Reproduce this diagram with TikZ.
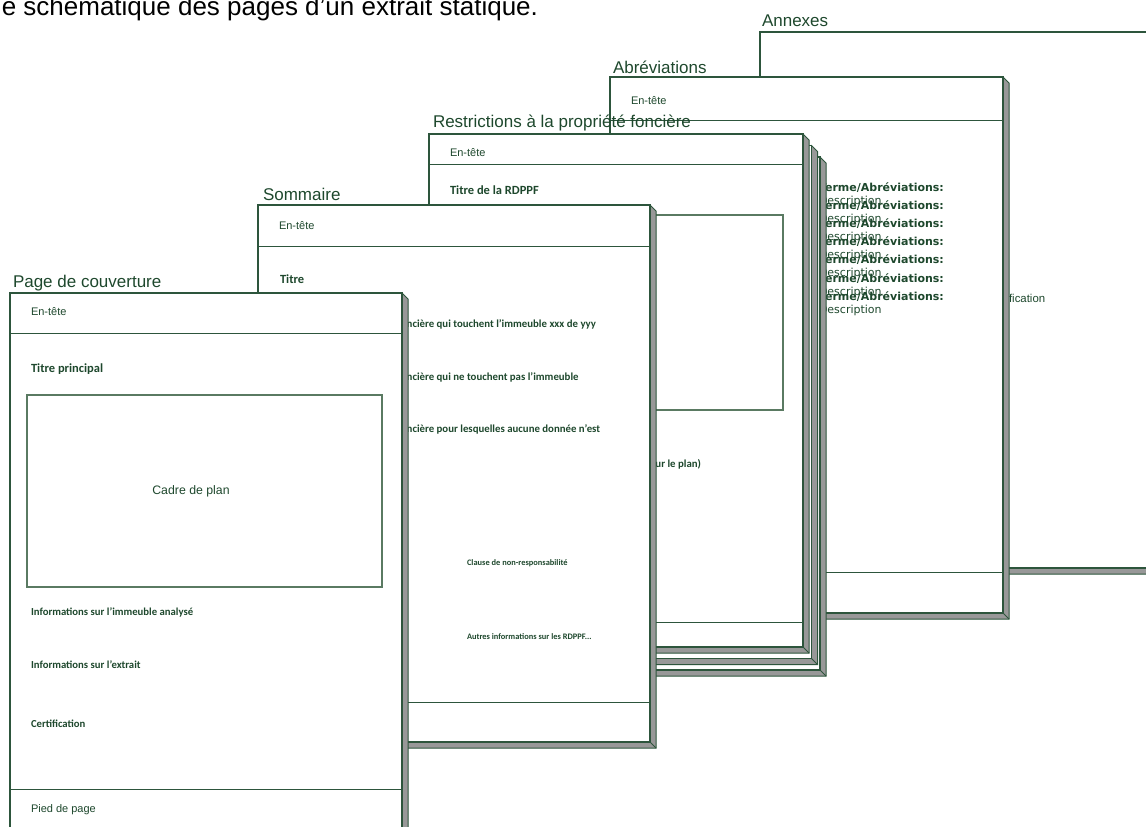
\documentclass[tikz,border=0pt]{standalone}
\usepackage{fontspec}
\setmainfont{Liberation Sans}
\newfontfamily\calibri{Carlito}
\newfontfamily\verdana{DejaVu Sans}

\begin{document}
\begin{tikzpicture}[x=1pt, y=-1pt,
    every node/.style={inner sep=0pt, outer sep=0pt, anchor=base west},
    pageface/.style={draw=linegr, fill=white, line width=1.3pt},
    pageside/.style={draw=linegr, fill=sidegr, line width=1pt},
    divider/.style={draw=linegr, line width=1pt},
    planbox/.style={draw=planfr, line width=1.2pt},
    pagetitle/.style={text=txtgr, font=\fontsize{17}{19}\selectfont},
    headtxt/.style={text=txtgr, font=\fontsize{11}{13}\selectfont},
    boldtitle/.style={text=txtgr, font=\calibri\bfseries\fontsize{12.5}{14}\selectfont},
    boldline/.style={text=txtgr, font=\calibri\bfseries\fontsize{10.8}{12}\selectfont},
    smallline/.style={text=txtgr, font=\calibri\bfseries\fontsize{8.4}{10}\selectfont},
    termtxt/.style={text=txtgr, font=\verdana\bfseries\fontsize{11}{12}\selectfont},
    desctxt/.style={text=txtgr, font=\verdana\fontsize{11}{12}\selectfont}]
    \definecolor{linegr}{RGB}{45,85,60}
    \definecolor{txtgr}{RGB}{30,72,45}
    \definecolor{sidegr}{RGB}{152,152,152}
    \definecolor{planfr}{RGB}{90,122,98}
    \useasboundingbox (0,0) rectangle (1146,827);
    \clip (0,0) rectangle (1146,827);
    % Caption
    \node[anchor=base east, font=\fontsize{26}{28}\selectfont] (caption) at (538,15) {Vue schématique des pages d'un extrait statique.};
    % Annexes
    \filldraw[pageside] (1200,32) -- (1206,38) -- (1206,574) -- (766,574) -- (760,568) -- cycle;
    \draw[pageside] (1200,568) -- (1206,574);
    \filldraw[pageface] (760,32) rectangle (1200,568);
    \node[pagetitle] (annexes) at (762,27) {Annexes};
    \node[headtxt, font=\fontsize{11.4}{13}\selectfont] (annexescert) at (985,302) {Certification};
    % Abreviations
    \filldraw[pageside] (1003,77) -- (1009,83) -- (1009,619) -- (616,619) -- (610,613) -- cycle;
    \draw[pageside] (1003,613) -- (1009,619);
    \filldraw[pageface] (610,77) rectangle (1003,613);
    \draw[divider] (610,120) -- (1003,120);
    \draw[divider] (610,572) -- (1003,572);
    \node[pagetitle] (abrev) at (613,73) {Abréviations};
    \node[headtxt] (abrevhead) at (631,104) {En-tête};
    % terms
    \node[termtxt] (term1) at (819,191.7) {Terme/Abréviations:};
    \node[desctxt] (desc1) at (819,204.7) {Description};
    \node[termtxt] (term2) at (819,209.8) {Terme/Abréviations:};
    \node[desctxt] (desc2) at (819,222.8) {Description};
    \node[termtxt] (term3) at (819,227.8) {Terme/Abréviations:};
    \node[desctxt] (desc3) at (819,240.8) {Description};
    \node[termtxt] (term4) at (819,245.9) {Terme/Abréviations:};
    \node[desctxt] (desc4) at (819,258.9) {Description};
    \node[termtxt] (term5) at (819,263.9) {Terme/Abréviations:};
    \node[desctxt] (desc5) at (819,276.9) {Description};
    \node[termtxt] (term6) at (819,282.0) {Terme/Abréviations:};
    \node[desctxt] (desc6) at (819,295.0) {Description};
    \node[termtxt] (term7) at (819,300.0) {Terme/Abréviations:};
    \node[desctxt] (desc7) at (819,313.0) {Description};
    % Restrictions, stacked pages
    \filldraw[pageside] (820,157) -- (826,163) -- (826,676) -- (452,676) -- (446,670) -- cycle;
    \draw[pageside] (820,670) -- (826,676);
    \filldraw[pageface] (446,157) rectangle (820,670);
    \filldraw[pageside] (811.5,145.5) -- (817.5,151.5) -- (817.5,664.5) -- (443.5,664.5) -- (437.5,658.5) -- cycle;
    \draw[pageside] (811.5,658.5) -- (817.5,664.5);
    \filldraw[pageface] (437.5,145.5) rectangle (811.5,658.5);
    \filldraw[pageside] (803,134) -- (809,140) -- (809,653) -- (435,653) -- (429,647) -- cycle;
    \draw[pageside] (803,647) -- (809,653);
    \filldraw[pageface] (429,134) rectangle (803,647);
    \draw[divider] (429,164) -- (803,164);
    \draw[divider] (429,622) -- (803,622);
    \draw[planbox] (449,215) rectangle (783,410);
    \node[pagetitle] (restr) at (433,127) {Restrictions à la propriété foncière};
    \node[headtxt] (restrhead) at (450,156) {En-tête};
    \node[boldtitle] (restrtitle) at (450,194) {Titre de la RDPPF};
    \node[boldline, anchor=base east] (restrlegend) at (701,467) {Légende (objets figurant sur le plan)};
    % Sommaire
    \filldraw[pageside] (650,205) -- (656,211) -- (656,748) -- (264,748) -- (258,742) -- cycle;
    \draw[pageside] (650,742) -- (656,748);
    \filldraw[pageface] (258,205) rectangle (650,742);
    \draw[divider] (258,246) -- (650,246);
    \draw[divider] (258,702) -- (650,702);
    \node[pagetitle] (summary) at (263,200) {Sommaire};
    \node[headtxt] (summaryhead) at (279,229) {En-tête};
    \node[boldtitle] (summarytitle) at (280,283) {Titre};
    \node[boldline] (touched) at (280,327) {Restrictions à la propriété foncière qui touchent l’immeuble xxx de yyy};
    \node[boldline] (nottouched) at (280,380) {Restrictions à la propriété foncière qui ne touchent pas l’immeuble};
    \node[boldline] (nodata) at (280,432) {Restrictions à la propriété foncière pour lesquelles aucune donnée n’est};
    \node[smallline] (disclaimer) at (467,565) {Clause de non-responsabilité};
    \node[smallline] (otherinfo) at (467,639) {Autres informations sur les RDPPF...};
    % Page de couverture
    \filldraw[pageside] (402,293) -- (408,299) -- (408,856) -- (16,856) -- (10,850) -- cycle;
    \draw[pageside] (402,850) -- (408,856);
    \filldraw[pageface] (10,293) rectangle (402,850);
    \draw[divider] (10,333) -- (402,333);
    \draw[divider] (10,789) -- (402,789);
    \draw[planbox] (27,395) rectangle (382,587);
    \node[pagetitle] (cover) at (13,287) {Page de couverture};
    \node[headtxt] (coverhead) at (31,315) {En-tête};
    \node[boldtitle] (covertitle) at (31,372) {Titre principal};
    \node[headtxt, anchor=center, font=\fontsize{12.3}{14}\selectfont] (plan) at (191,491) {Cadre de plan};
    \node[boldline, font=\calibri\bfseries\fontsize{10.7}{12}\selectfont] (propinfo) at (31,615) {Informations sur l’immeuble analysé};
    \node[boldline, font=\calibri\bfseries\fontsize{10.7}{12}\selectfont] (extractinfo) at (31,668) {Informations sur l’extrait};
    \node[boldline, font=\calibri\bfseries\fontsize{10.7}{12}\selectfont] (certif) at (31,727) {Certification};
    \node[headtxt] (footer) at (31,812) {Pied de page};
\end{tikzpicture}
\end{document}
